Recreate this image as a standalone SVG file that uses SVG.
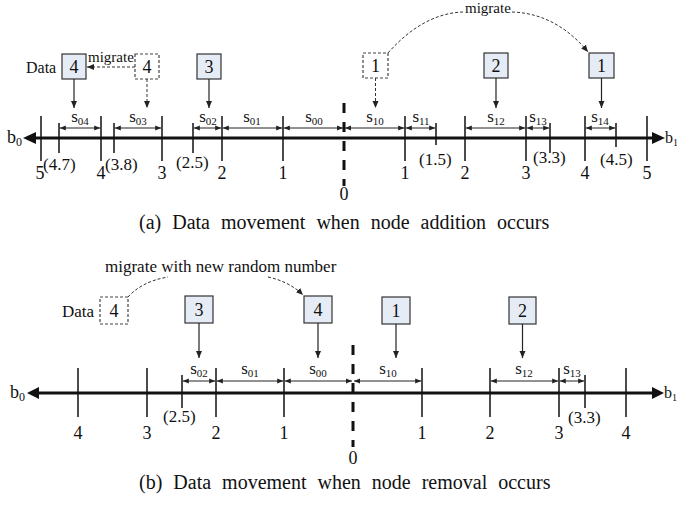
<svg xmlns="http://www.w3.org/2000/svg" width="677" height="510" viewBox="0 0 677 510">
<defs>
<marker id="ah" markerWidth="8" markerHeight="8" refX="7" refY="4" orient="auto" markerUnits="userSpaceOnUse"><path d="M0,1 L7,4 L0,7 z" fill="#222"/></marker>
<marker id="sa" markerWidth="7" markerHeight="6" refX="6" refY="3" orient="auto-start-reverse" markerUnits="userSpaceOnUse"><path d="M0,0.5 L6,3 L0,5.5 z" fill="#222"/></marker>
</defs>
<style>
text{font-family:"Liberation Serif","Times New Roman",serif;fill:#111}
.lb{font-size:18px;text-anchor:middle}
.dl{font-size:17px}
.s{font-size:17px;text-anchor:middle}
.sub{font-size:11px}
.bd{font-size:18px;text-anchor:middle}
.box{fill:#e6ecf6;stroke:#333;stroke-width:1.2}
.dbox{fill:#fff;stroke:#444;stroke-width:1.2;stroke-dasharray:3 2}
.ax{stroke:#111;stroke-width:3}
.tk{stroke:#111;stroke-width:1.5}
.zero{stroke:#111;stroke-width:3;stroke-dasharray:10 9}
.arr{stroke:#222;stroke-width:1.2;fill:none;marker-end:url(#ah)}
.darr{stroke:#333;stroke-width:1;fill:none;stroke-dasharray:3 2;marker-end:url(#ah)}
.dcur{stroke:#333;stroke-width:1;fill:none;stroke-dasharray:3 2}
.sp{stroke:#222;stroke-width:1;marker-start:url(#sa);marker-end:url(#sa)}
.cap{font-size:20px;word-spacing:6px}
.bb{font-size:18px}
</style>

<!-- ===== Part (a) axis ===== -->
<g id="axis-a">
<line class="ax" x1="34" y1="138" x2="655" y2="138"/>
<polygon points="23,138 36,132 36,144" fill="#111"/>
<polygon points="665,138 652,132 652,144" fill="#111"/>
<text class="bb" x="7" y="143">b<tspan font-size="12" dy="3">0</tspan></text>
<text x="665" y="143" style="font-size:16px">b<tspan font-size="10" dy="3">1</tspan></text>
<g class="tk">
<line x1="41" y1="116" x2="41" y2="161"/>
<line x1="101" y1="116" x2="101" y2="161"/>
<line x1="162" y1="116" x2="162" y2="161"/>
<line x1="222" y1="116" x2="222" y2="161"/>
<line x1="283" y1="116" x2="283" y2="161"/>
<line x1="405" y1="116" x2="405" y2="161"/>
<line x1="465" y1="116" x2="465" y2="161"/>
<line x1="526" y1="116" x2="526" y2="161"/>
<line x1="585" y1="116" x2="585" y2="161"/>
<line x1="647" y1="116" x2="647" y2="161"/>
<line x1="59" y1="123" x2="59" y2="153"/>
<line x1="114" y1="123" x2="114" y2="153"/>
<line x1="193" y1="123" x2="193" y2="153"/>
<line x1="436" y1="123" x2="436" y2="145"/>
<line x1="550" y1="123" x2="550" y2="153"/>
<line x1="616" y1="123" x2="616" y2="147"/>
</g>
<line class="zero" x1="344" y1="103" x2="344" y2="186"/>
<text class="lb" x="344" y="200">0</text>
<text class="lb" x="40" y="179">5</text>
<text class="lb" x="101" y="179">4</text>
<text class="lb" x="162" y="179">3</text>
<text class="lb" x="222" y="179">2</text>
<text class="lb" x="283" y="179">1</text>
<text class="lb" x="405" y="179">1</text>
<text class="lb" x="465" y="179">2</text>
<text class="lb" x="526" y="179">3</text>
<text class="lb" x="585" y="179">4</text>
<text class="lb" x="647" y="179">5</text>
<text class="dl" x="43" y="170">(4.7)</text>
<text class="dl" x="105" y="170">(3.8)</text>
<text class="dl" x="176" y="168">(2.5)</text>
<text class="dl" x="419" y="165">(1.5)</text>
<text class="dl" x="533" y="163">(3.3)</text>
<text class="dl" x="600" y="165">(4.5)</text>
<g id="spans-a">
<line class="sp" x1="59.8" y1="128" x2="100.2" y2="128"/>
<line class="sp" x1="114.8" y1="128" x2="161.2" y2="128"/>
<line class="sp" x1="193.8" y1="128" x2="221.2" y2="128"/>
<line class="sp" x1="222.8" y1="128" x2="282.2" y2="128"/>
<line class="sp" x1="283.8" y1="128" x2="343" y2="128"/>
<line class="sp" x1="345" y1="128" x2="404.2" y2="128"/>
<line class="sp" x1="405.8" y1="128" x2="435.2" y2="128"/>
<line class="sp" x1="465.8" y1="128" x2="525.2" y2="128"/>
<line class="sp" x1="526.8" y1="128" x2="549.2" y2="128"/>
<line class="sp" x1="585.8" y1="128" x2="615.2" y2="128"/>
<text class="s" x="80" y="122">s<tspan class="sub" dy="3">04</tspan></text>
<text class="s" x="138" y="122">s<tspan class="sub" dy="3">03</tspan></text>
<text class="s" x="208" y="122">s<tspan class="sub" dy="3">02</tspan></text>
<text class="s" x="252" y="122">s<tspan class="sub" dy="3">01</tspan></text>
<text class="s" x="314" y="122">s<tspan class="sub" dy="3">00</tspan></text>
<text class="s" x="375" y="122">s<tspan class="sub" dy="3">10</tspan></text>
<text class="s" x="421" y="122">s<tspan class="sub" dy="3">11</tspan></text>
<text class="s" x="496" y="122">s<tspan class="sub" dy="3">12</tspan></text>
<text class="s" x="538" y="122">s<tspan class="sub" dy="3">13</tspan></text>
<text class="s" x="600" y="122">s<tspan class="sub" dy="3">14</tspan></text>
</g>
</g>

<!-- ===== Part (a) nodes ===== -->
<text x="26" y="73" style="font-size:16px">Data</text>
<g id="a-box4"><rect class="box" x="62" y="54" width="24" height="25"/><text class="bd" x="74" y="73">4</text></g>
<g id="a-box4-old"><rect class="dbox" x="135" y="54" width="24" height="25"/><text class="bd" x="147" y="73">4</text></g>
<g id="a-box3"><rect class="box" x="197" y="54" width="24" height="25"/><text class="bd" x="209" y="73">3</text></g>
<g id="a-box1-old"><rect class="dbox" x="363" y="53" width="25" height="25"/><text class="bd" x="375.5" y="72">1</text></g>
<g id="a-box2"><rect class="box" x="484" y="53" width="24" height="25"/><text class="bd" x="496" y="72">2</text></g>
<g id="a-box1"><rect class="box" x="589" y="53" width="25" height="25"/><text class="bd" x="601.5" y="72">1</text></g>

<!-- ===== Part (b) axis ===== -->
<g id="axis-b">
<line class="ax" x1="36" y1="393" x2="654" y2="393"/>
<polygon points="27,393 39,387 39,399" fill="#111"/>
<polygon points="664,393 652,387 652,399" fill="#111"/>
<text class="bb" x="10" y="398">b<tspan font-size="12" dy="3">0</tspan></text>
<text x="664" y="398" style="font-size:16px">b<tspan font-size="10" dy="3">1</tspan></text>
<g class="tk">
<line x1="78" y1="368" x2="78" y2="417"/>
<line x1="147" y1="368" x2="147" y2="417"/>
<line x1="216" y1="368" x2="216" y2="417"/>
<line x1="284" y1="368" x2="284" y2="417"/>
<line x1="422" y1="368" x2="422" y2="417"/>
<line x1="490" y1="368" x2="490" y2="417"/>
<line x1="559" y1="368" x2="559" y2="417"/>
<line x1="626" y1="368" x2="626" y2="417"/>
<line x1="182" y1="375" x2="182" y2="408"/>
<line x1="585" y1="375" x2="585" y2="408"/>
</g>
<line class="zero" x1="353" y1="345" x2="353" y2="447"/>
<text class="lb" x="353" y="464">0</text>
<text class="lb" x="78" y="439">4</text>
<text class="lb" x="147" y="439">3</text>
<text class="lb" x="216" y="439">2</text>
<text class="lb" x="284" y="439">1</text>
<text class="lb" x="422" y="439">1</text>
<text class="lb" x="490" y="439">2</text>
<text class="lb" x="559" y="439">3</text>
<text class="lb" x="626" y="439">4</text>
<text class="dl" x="163" y="422">(2.5)</text>
<text class="dl" x="568" y="423">(3.3)</text>
<g id="spans-b">
<line class="sp" x1="182.8" y1="381" x2="215.2" y2="381"/>
<line class="sp" x1="216.8" y1="381" x2="283.2" y2="381"/>
<line class="sp" x1="284.8" y1="381" x2="352" y2="381"/>
<line class="sp" x1="354" y1="381" x2="421.2" y2="381"/>
<line class="sp" x1="490.8" y1="381" x2="558.2" y2="381"/>
<line class="sp" x1="559.8" y1="381" x2="584.2" y2="381"/>
<text class="s" x="199" y="374">s<tspan class="sub" dy="3">02</tspan></text>
<text class="s" x="250" y="374">s<tspan class="sub" dy="3">01</tspan></text>
<text class="s" x="318" y="374">s<tspan class="sub" dy="3">00</tspan></text>
<text class="s" x="388" y="374">s<tspan class="sub" dy="3">10</tspan></text>
<text class="s" x="524" y="374">s<tspan class="sub" dy="3">12</tspan></text>
<text class="s" x="572" y="374">s<tspan class="sub" dy="3">13</tspan></text>
</g>
</g>

<!-- ===== Part (b) nodes ===== -->
<text x="62" y="317" style="font-size:17px">Data</text>
<g id="b-box4-old"><rect class="dbox" x="100" y="297" width="28" height="27"/><text class="bd" x="114" y="317">4</text></g>
<g id="b-box3"><rect class="box" x="185" y="296" width="28" height="27"/><text class="bd" x="199" y="316">3</text></g>
<g id="b-box4"><rect class="box" x="304" y="296" width="28" height="27"/><text class="bd" x="318" y="316">4</text></g>
<g id="b-box1"><rect class="box" x="382" y="297" width="28" height="27"/><text class="bd" x="396" y="317">1</text></g>
<g id="b-box2"><rect class="box" x="509" y="297" width="27" height="27"/><text class="bd" x="522.5" y="317">2</text></g>

<!-- ===== Connectors ===== -->
<g id="connectors">
<line class="arr" x1="74" y1="79" x2="74" y2="108"/>
<line class="darr" x1="147" y1="79" x2="147" y2="108"/>
<line class="arr" x1="209" y1="79" x2="209" y2="108"/>
<line class="darr" x1="375.5" y1="78" x2="375.5" y2="108"/>
<line class="arr" x1="496" y1="78" x2="496" y2="108"/>
<line class="arr" x1="601.5" y1="78" x2="601.5" y2="108"/>
<line class="darr" x1="135" y1="67" x2="87" y2="67"/>
<path class="dcur" d="M388,53 C410,28 435,13 463,12"/>
<path class="darr" d="M512,12 C545,13 570,30 588,52"/>
<line class="arr" x1="199" y1="323" x2="199" y2="358"/>
<line class="arr" x1="318" y1="323" x2="318" y2="358"/>
<line class="arr" x1="396" y1="324" x2="396" y2="358"/>
<line class="arr" x1="522.5" y1="324" x2="522.5" y2="358"/>
<path class="dcur" d="M128,297 C137,287 150,280 168,277"/>
<path class="darr" d="M268,277 C282,280 294,286 303,295"/>
</g>

<text x="88" y="62" style="font-size:15px">migrate</text>
<text x="465" y="13" style="font-size:15px">migrate</text>
<text x="105" y="272" style="font-size:17px">migrate with new random number</text>

<text class="cap" x="139" y="229">(a) Data movement when node addition occurs</text>
<text class="cap" x="139" y="489">(b) Data movement when node removal occurs</text>
</svg>
